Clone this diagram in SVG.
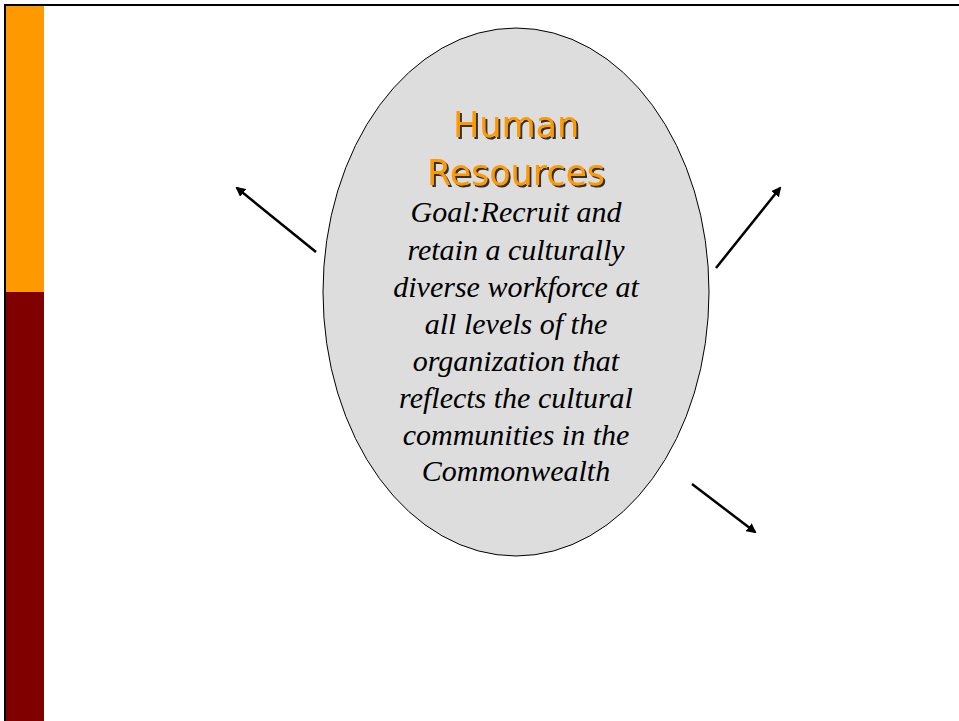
<svg xmlns="http://www.w3.org/2000/svg" width="959" height="721" viewBox="0 0 959 721">
<style>
.goal{font-family:"Liberation Serif","Times New Roman",serif;font-style:italic;font-size:30px;fill:#000;text-anchor:middle}
.title{font-family:"DejaVu Sans",Verdana,sans-serif;font-size:35px;text-anchor:middle;fill:#FF9900;filter:url(#sh)}
.conn{stroke:#000;stroke-width:2.5;fill:none;marker-end:url(#ah)}
</style>
<defs>
<marker id="ah" viewBox="0 0 10 10" refX="8" refY="5" markerWidth="4" markerHeight="4" orient="auto" markerUnits="strokeWidth">
<path d="M0,0 L10,5 L0,10 z" fill="#000"/>
</marker>
<filter id="sh" x="-10%" y="-20%" width="120%" height="140%">
<feDropShadow dx="2" dy="2" stdDeviation="0.3" flood-color="#333" flood-opacity="1"/>
</filter>
</defs>
<rect width="959" height="721" fill="#fff"/>
<g id="sidebar">
<rect x="6" y="6" width="38" height="286" fill="#FF9900"/>
<rect x="6" y="292" width="38" height="429" fill="#800000"/>
<line x1="4" y1="5" x2="959" y2="5" stroke="#000" stroke-width="2"/>
<line x1="5" y1="4" x2="5" y2="721" stroke="#000" stroke-width="2"/>
</g>
<g id="hr">
<ellipse cx="516" cy="292" rx="193" ry="264" fill="#DDDDDD" stroke="#000" stroke-width="1"/>
<text class="title" x="516" y="137">Human</text>
<text class="title" x="516" y="185" textLength="178" lengthAdjust="spacingAndGlyphs">Resources</text>
<text class="goal" x="516" y="222">Goal:Recruit and</text>
<text class="goal" x="516" y="260">retain a culturally</text>
<text class="goal" x="516" y="297">diverse workforce at</text>
<text class="goal" x="516" y="334">all levels of the</text>
<text class="goal" x="516" y="371">organization that</text>
<text class="goal" x="516" y="408">reflects the cultural</text>
<text class="goal" x="516" y="445">communities in the</text>
<text class="goal" x="516" y="481">Commonwealth</text>
</g>
<g id="connectors">
<line class="conn" x1="316" y1="252" x2="237" y2="188"/>
<line class="conn" x1="716" y1="268" x2="780" y2="188"/>
<line class="conn" x1="692" y1="484" x2="755" y2="532"/>
</g>
</svg>
